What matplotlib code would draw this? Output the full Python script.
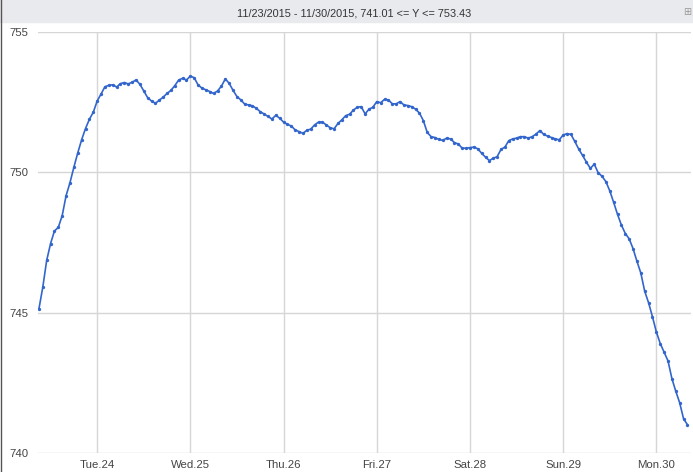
import matplotlib
matplotlib.use('Agg')
import matplotlib.pyplot as plt
import numpy as np
import pandas as pd

plt.rcParams['font.family'] = ['Liberation Sans', 'DejaVu Sans']

# hourly readings, 23 Nov 2015 09:00 -> 30 Nov 2015 08:00
start = '2015-11-23 09:00'
values = [
    745.13, 745.91, 746.86, 747.46, 747.91, 748.04, 748.46, 749.17, 749.63, 750.18,
    750.69, 751.16, 751.56, 751.89, 752.14, 752.54, 752.79, 753.05, 753.10, 753.12,
    753.04, 753.16, 753.20, 753.15, 753.21, 753.29, 753.14, 752.90, 752.66, 752.54,
    752.46, 752.57, 752.68, 752.81, 752.92, 753.09, 753.29, 753.35, 753.29, 753.43,
    753.37, 753.11, 753.00, 752.94, 752.88, 752.81, 752.90, 753.07, 753.33, 753.17,
    752.92, 752.70, 752.58, 752.43, 752.40, 752.37, 752.28, 752.16, 752.08, 751.99,
    751.90, 752.03, 751.93, 751.79, 751.71, 751.65, 751.51, 751.45, 751.39, 751.50,
    751.54, 751.69, 751.79, 751.79, 751.69, 751.59, 751.55, 751.74, 751.87, 752.02,
    752.07, 752.22, 752.32, 752.34, 752.08, 752.25, 752.32, 752.52, 752.48, 752.60,
    752.58, 752.44, 752.44, 752.52, 752.40, 752.38, 752.34, 752.25, 752.11, 751.84,
    751.42, 751.27, 751.24, 751.17, 751.14, 751.22, 751.19, 751.06, 751.01, 750.86,
    750.86, 750.88, 750.90, 750.84, 750.68, 750.54, 750.42, 750.50, 750.56, 750.82,
    750.90, 751.13, 751.19, 751.22, 751.27, 751.27, 751.22, 751.27, 751.36, 751.49,
    751.35, 751.29, 751.24, 751.19, 751.16, 751.33, 751.38, 751.35, 751.10, 750.83,
    750.60, 750.36, 750.14, 750.29, 749.99, 749.86, 749.67, 749.34, 748.93, 748.50,
    748.12, 747.82, 747.63, 747.28, 746.83, 746.41, 745.76, 745.35, 744.85, 744.31,
    743.90, 743.59, 743.28, 742.65, 742.20, 741.79, 741.22, 741.01,
]
day_ticks = ['2015-11-24', '2015-11-25', '2015-11-26', '2015-11-27',
             '2015-11-28', '2015-11-29', '2015-11-30']
day_labels = ['Tue.24', 'Wed.25', 'Thu.26', 'Fri.27', 'Sat.28', 'Sun.29', 'Mon.30']
y_ticks = [740, 745, 750, 755]

times = pd.date_range(start, periods=len(values), freq='h')
title = '%s - %s, %.2f <= Y <= %.2f' % (
    times[0].strftime('%m/%d/%Y'), times[-1].strftime('%m/%d/%Y'),
    min(values), max(values))

fig = plt.figure(figsize=(6.93, 4.72), dpi=100)
fig.patch.set_facecolor('white')

# grey header strip with the range summary
fig.patches.append(plt.Rectangle((0, 1 - 22 / 472), 1, 22 / 472,
                                 transform=fig.transFigure, color='#e9eaee', zorder=0))
fig.text(354 / 693, 1 - 13 / 472, title, ha='center', va='center',
         fontsize=7.8, color='#333333')
fig.text(687 / 693, 1 - 12 / 472, '\u229e', ha='center', va='center',
         fontsize=7, color='#999999', family='DejaVu Sans')
fig.add_artist(plt.Line2D([0.5 / 693, 0.5 / 693], [0, 1], transform=fig.transFigure,
                          color='#555555', lw=1))

ax = fig.add_axes([38 / 693, 19 / 472, 653 / 693, 421 / 472])
ax.plot(times, values, color='#3366cc', lw=1.2, marker='o', ms=2.4,
        markeredgewidth=0, zorder=3)

t0 = times[0] - pd.Timedelta(minutes=14)
t1 = times[-1] + pd.Timedelta(minutes=55)
ax.set_xlim(t0, t1)
ax.set_ylim(740, 755)

ax.set_xticks(pd.to_datetime(day_ticks))
ax.set_xticklabels(day_labels)
ax.set_yticks(y_ticks)
ax.tick_params(length=0, labelsize=8.2, colors='#444444')
ax.tick_params(axis='x', pad=5)
ax.tick_params(axis='y', pad=7)
ax.grid(True, color='#d6d6d6', lw=1)
ax.set_axisbelow(True)
for s in ax.spines.values():
    s.set_visible(False)

fig.savefig('out.png', dpi=100)
